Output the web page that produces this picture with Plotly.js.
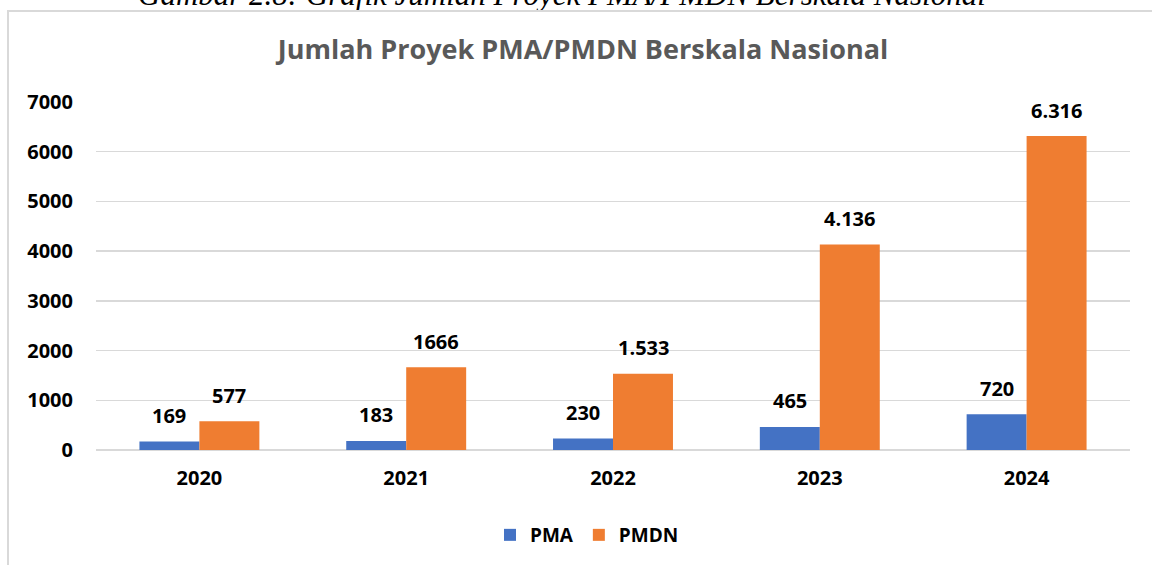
<!DOCTYPE html>
<html>
<head>
<meta charset="utf-8">
<script src="https://cdn.plot.ly/plotly-3.0.1.min.js"></script>
<style>
  html, body { margin: 0; padding: 0; background: #fff; }
  #wrap { position: relative; width: 1152px; height: 565px; overflow: hidden; }
  #chart { position: absolute; left: 0; top: 0; width: 1152px; height: 565px; }
  #frame { position: absolute; left: 7px; top: 10px; width: 1160px; height: 600px;
           border: 2px solid #D9D9D9; pointer-events: none; box-sizing: border-box; }
</style>
</head>
<body>
<div id="wrap">
  <div id="chart"></div>
  <div id="frame"></div>
</div>
<script>
const years = ['2020', '2021', '2022', '2023', '2024'];
const pmaValues = [169, 183, 230, 465, 720];
const pmdnValues = [577, 1666, 1533, 4136, 6316];
const pmaLabels = ['169', '183', '230', '465', '720'];
const pmdnLabels = ['577', '1666', '1.533', '4.136', '6.316'];
const yTicks = [0, 1000, 2000, 3000, 4000, 5000, 6000, 7000];

const FONT = 'Open Sans, Noto Sans, Liberation Sans, sans-serif';

const traces = [
  { type: 'bar', name: 'PMA', x: years, y: pmaValues,
    marker: { color: '#4472C4' }, hoverinfo: 'x+y' },
  { type: 'bar', name: 'PMDN', x: years, y: pmdnValues,
    marker: { color: '#EF7D31' }, hoverinfo: 'x+y' }
];

const annotations = [];
years.forEach((yr, i) => {
  annotations.push({ x: i, y: pmaValues[i], xref: 'x', yref: 'y', text: pmaLabels[i],
    showarrow: false, xshift: -30, yshift: 26, yanchor: 'middle',
    font: { family: FONT, size: 20, color: '#000', weight: 700 } });
  annotations.push({ x: i, y: pmdnValues[i], xref: 'x', yref: 'y', text: pmdnLabels[i],
    showarrow: false, xshift: 30, yshift: 26, yanchor: 'middle',
    font: { family: FONT, size: 20, color: '#000', weight: 700 } });
});
// caption cut off at the top of the picture
annotations.push({ xref: 'paper', yref: 'paper', x: (562 - 96) / 1034, y: (451 - 14) / 349,
  xanchor: 'center', yanchor: 'bottom', showarrow: false,
  text: 'Gambar 2.8: Grafik Jumlah Proyek PMA/PMDN Berskala Nasional',
  font: { family: 'Liberation Serif, DejaVu Serif, serif', size: 31, color: '#000', style: 'italic' } });

const layout = {
  width: 1152, height: 565,
  margin: { l: 96, r: 22, t: 102, b: 114 },
  paper_bgcolor: '#fff', plot_bgcolor: '#fff',
  title: { text: 'Jumlah Proyek PMA/PMDN Berskala Nasional',
    x: 583 / 1152, xanchor: 'center', xref: 'container',
    y: 1 - 50 / 565, yanchor: 'middle', yref: 'container',
    font: { family: FONT, size: 27, color: '#595959', weight: 700 } },
  barmode: 'group', bargap: 0.42, bargroupgap: 0,
  showlegend: true,
  legend: { orientation: 'h', x: (587 - 96) / 1034, xanchor: 'center',
    y: (451 - 535) / 349, yanchor: 'middle',
    font: { family: FONT, size: 19, color: '#000', weight: 700 },
    itemwidth: 30, tracegroupgap: 0 },
  xaxis: { type: 'category', showgrid: false, zeroline: false, showline: false,
    range: [-0.5, 4.5], ticks: '', ticklabelstandoff: 14,
    tickfont: { family: FONT, size: 20, color: '#000', weight: 700 } },
  yaxis: { range: [0, 7000], tickvals: yTicks, ticktext: yTicks.map(String),
    showgrid: true, gridcolor: '#D9D9D9', gridwidth: 1.5,
    zeroline: true, zerolinecolor: '#D9D9D9', zerolinewidth: 1.5,
    showline: false, ticks: '', ticklabelstandoff: 22,
    tickfont: { family: FONT, size: 20, color: '#000', weight: 700 } },
  annotations: annotations
};

Plotly.newPlot('chart', traces, layout, { displayModeBar: false, staticPlot: true });
</script>
</body>
</html>
